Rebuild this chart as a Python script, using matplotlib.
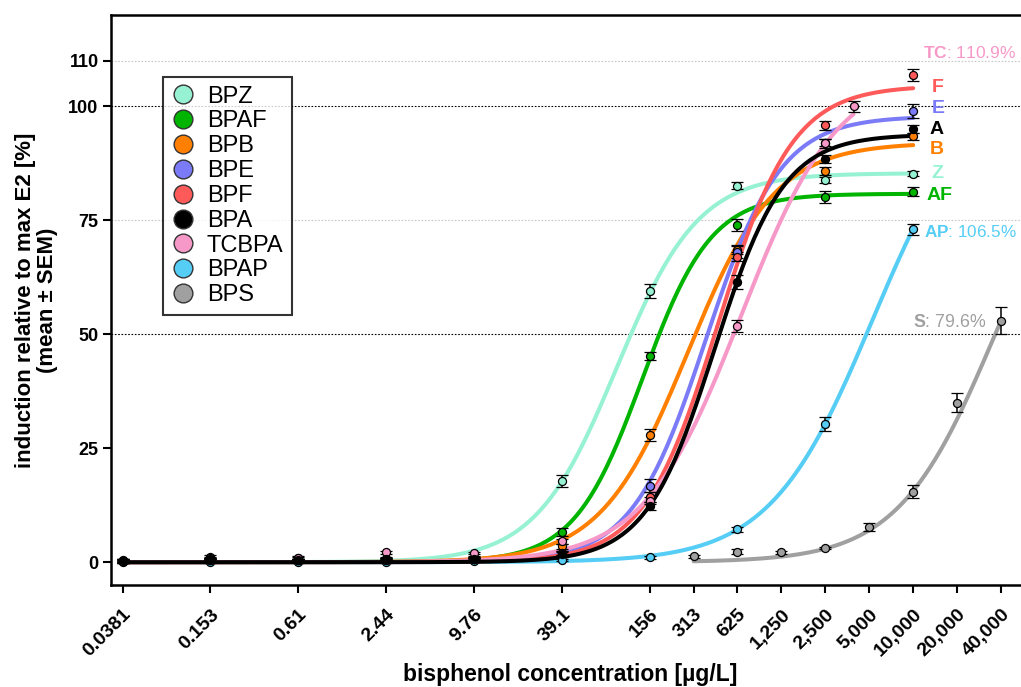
import numpy as np
import matplotlib
matplotlib.use('Agg')
import matplotlib.pyplot as plt
from matplotlib.lines import Line2D

plt.rcParams['font.family'] = ['Liberation Sans', 'DejaVu Sans']
plt.rcParams['mathtext.fontset'] = 'custom'
plt.rcParams['mathtext.rm'] = 'Liberation Sans'
plt.rcParams['mathtext.bf'] = 'Liberation Sans:bold'

# concentrations (ug/L)
conc = [0.03815, 0.1526, 0.6104, 2.441, 9.766, 39.06, 156.25, 625, 2500, 10000]
conc_tc = [0.03815, 0.1526, 0.6104, 2.441, 9.766, 39.06, 156.25, 625, 2500, 3900]
conc_s = [312.5, 625, 1250, 2500, 5000, 10000, 20000, 40000]

tick_pos = [0.03815, 0.1526, 0.6104, 2.441, 9.766, 39.06, 156.25, 312.5, 625,
            1250, 2500, 5000, 10000, 20000, 40000]
tick_lab = ['0.0381', '0.153', '0.61', '2.44', '9.76', '39.1', '156', '313', '625',
            '1,250', '2,500', '5,000', '10,000', '20,000', '40,000']

names = ['BPZ', 'BPAF', 'BPB', 'BPE', 'BPF', 'BPA', 'TCBPA', 'BPAP', 'BPS']
colors = ['#96F2D2', '#00B400', '#FF8000', '#7B7BF7', '#FF5A5A', '#000000',
          '#F799C8', '#55CDF5', '#A0A0A0']

# mean induction [%]
bpz = [0.3, 1.2, 0.9, 0.8, 1.0, 17.8, 59.5, 82.6, 83.8, 85.2]
bpaf = [0.2, 0.6, 0.5, 0.6, 0.8, 6.6, 45.2, 74.0, 80.0, 81.2]
bpb = [0.2, 0.4, 0.4, 0.5, 0.6, 3.5, 27.9, 68.5, 85.8, 93.4]
bpe = [0.2, 0.4, 0.4, 0.5, 0.6, 2.0, 16.8, 68.0, 92.0, 99.0]
bpf = [0.3, 0.5, 0.5, 0.6, 0.7, 2.0, 14.3, 67.0, 95.8, 106.8]
bpa = [0.5, 0.6, 0.5, 0.6, 0.8, 1.7, 12.3, 61.5, 88.4, 95.0]
tcbpa = [0.3, 0.9, 1.0, 2.2, 2.0, 4.6, 13.5, 51.8, 91.9, 100.0]
bpap = [0.1, 0.1, 0.1, 0.1, 0.2, 0.4, 1.1, 7.2, 30.3, 73.0]
bps = [1.3, 2.3, 2.2, 3.1, 7.7, 15.5, 35.0, 53.0]

# SEM
bpz_sem = [0.3, 0.3, 0.3, 0.3, 0.3, 1.3, 1.5, 0.8, 0.6, 0.6]
bpaf_sem = [0.3, 0.3, 0.3, 0.3, 0.3, 0.8, 0.9, 1.3, 1.3, 1.0]
bpb_sem = [0.3, 0.3, 0.3, 0.3, 0.3, 0.6, 1.3, 1.0, 0.8, 0.8]
bpe_sem = [0.3, 0.3, 0.3, 0.3, 0.3, 0.5, 1.5, 1.3, 0.8, 1.5]
bpf_sem = [0.3, 0.3, 0.3, 0.3, 0.3, 0.5, 1.0, 1.0, 1.0, 1.3]
bpa_sem = [0.3, 0.3, 0.3, 0.3, 0.3, 0.5, 0.8, 1.5, 0.9, 0.9]
tcbpa_sem = [0.3, 0.3, 0.3, 0.3, 0.3, 0.5, 0.8, 1.3, 1.0, 1.2]
bpap_sem = [0.2, 0.2, 0.2, 0.2, 0.2, 0.2, 0.3, 0.5, 1.5, 1.2]
bps_sem = [0.3, 0.5, 0.3, 0.3, 0.8, 1.5, 2.0, 3.0]

# fitted 4PL curves (bottom 0): top, EC50, hill
fit_top = [85.3, 80.8, 92.0, 97.8, 104.5, 93.8, 108.0, 106.5, 100.0]
fit_ec50 = [93, 140, 285, 380, 460, 437, 660, 5280, 36500]
fit_hill = [1.55, 1.85, 1.45, 1.7, 1.7, 1.83, 1.3, 1.23, 1.3]

means = [bpz, bpaf, bpb, bpe, bpf, bpa, tcbpa, bpap, bps]
sems = [bpz_sem, bpaf_sem, bpb_sem, bpe_sem, bpf_sem, bpa_sem, tcbpa_sem, bpap_sem, bps_sem]
xs = [conc, conc, conc, conc, conc, conc, conc_tc, conc, conc_s]


def hill(x, top, ec50, h):
    return top / (1.0 + (ec50 / x) ** h)


fig = plt.figure(figsize=(10.21, 6.87), dpi=100)
ax = fig.add_axes([111 / 1021, 1 - 585 / 687, 910 / 1021, 570 / 687])
ax.set_xscale('log')
ax.set_xlim(0.0318, 54800)
ax.set_ylim(-5, 120)

ax.axhline(50, color='black', ls=(0, (1.5, 1.5)), lw=0.8, zorder=0)
ax.axhline(100, color='black', ls=(0, (1.5, 1.5)), lw=0.8, zorder=0)
ax.axhline(75, color='#c8c8c8', ls=(0, (1.5, 1.5)), lw=0.8, zorder=0)
ax.axhline(110, color='#c8c8c8', ls=(0, (1.5, 1.5)), lw=0.8, zorder=0)

order = [8, 7, 0, 1, 2, 3, 4, 6, 5]
for i in order:
    x = np.array(xs[i])
    xx = np.logspace(np.log10(x[0]), np.log10(x[-1]), 300)
    ax.plot(xx, hill(xx, fit_top[i], fit_ec50[i], fit_hill[i]), color=colors[i],
            lw=2.9, solid_capstyle='round', zorder=2 + order.index(i) * 0.1)
for i in order:
    ax.errorbar(xs[i], means[i], yerr=sems[i], fmt='o', ms=5.8, mfc=colors[i],
                mec='black', mew=0.9, ecolor='black', elinewidth=1.1,
                capsize=4, capthick=1.1, zorder=5)

ax.set_xticks(tick_pos)
ax.set_xticklabels(tick_lab, rotation=45, ha='right', rotation_mode='anchor',
                   fontsize=14, fontweight='bold')
ax.minorticks_off()
ax.set_yticks([0, 25, 50, 75, 100, 110])
ax.set_yticklabels(['0', '25', '50', '75', '100', '110'], fontsize=13, fontweight='bold')
ax.tick_params(axis='both', direction='out', width=1.5, length=6, pad=3)
ax.tick_params(axis='x', pad=9)
for s in ['left', 'bottom', 'top']:
    ax.spines[s].set_linewidth(1.8)
ax.spines['right'].set_visible(False)

ax.set_xlabel('bisphenol concentration [µg/L]', fontsize=16.5, fontweight='bold')
ax.xaxis.set_label_coords(0.505, -0.137)
ax.set_ylabel('induction relative to max E2 [%]\n(mean ± SEM)', fontsize=16,
              fontweight='bold', linespacing=1.05)
ax.yaxis.set_label_coords(-0.058, 0.5)

# right-hand labels
lab_txt = ['F', 'E', 'A', 'B', 'Z', 'AF']
lab_col = [colors[4], colors[3], colors[5], colors[2], colors[0], colors[1]]
lab_x = [13400, 13400, 13000, 13000, 13400, 12300]
lab_y = [104.2, 99.6, 95.0, 90.6, 85.3, 80.5]
for t, c, x, y in zip(lab_txt, lab_col, lab_x, lab_y):
    ax.text(x, y, t, color=c, fontsize=14, fontweight='bold', va='center', ha='left')
ax.text(11600, 111.6, r'$\mathbf{TC}$: 110.9%', color=colors[6], fontsize=12.5,
        va='center', ha='left')
ax.text(11900, 72.4, r'$\mathbf{AP}$: 106.5%', color=colors[7], fontsize=12.3,
        va='center', ha='left')
ax.text(10000, 52.6, r'$\mathbf{S}$: 79.6%', color=colors[8], fontsize=12.8,
        va='center', ha='left')

handles = [Line2D([], [], ls='none', marker='o', ms=13.5, mfc=c, mec='#333333', mew=1.0)
           for c in colors]
leg = ax.legend(handles, names, loc='upper left', bbox_to_anchor=(0.057, 0.891),
                borderaxespad=0, frameon=True, fancybox=False, fontsize=17,
                handlelength=1.0, handletextpad=0.5, labelspacing=0.12,
                borderpad=0.36)
leg.get_frame().set_edgecolor('black')
leg.get_frame().set_linewidth(1.5)

fig.savefig('out.png', dpi=100)
